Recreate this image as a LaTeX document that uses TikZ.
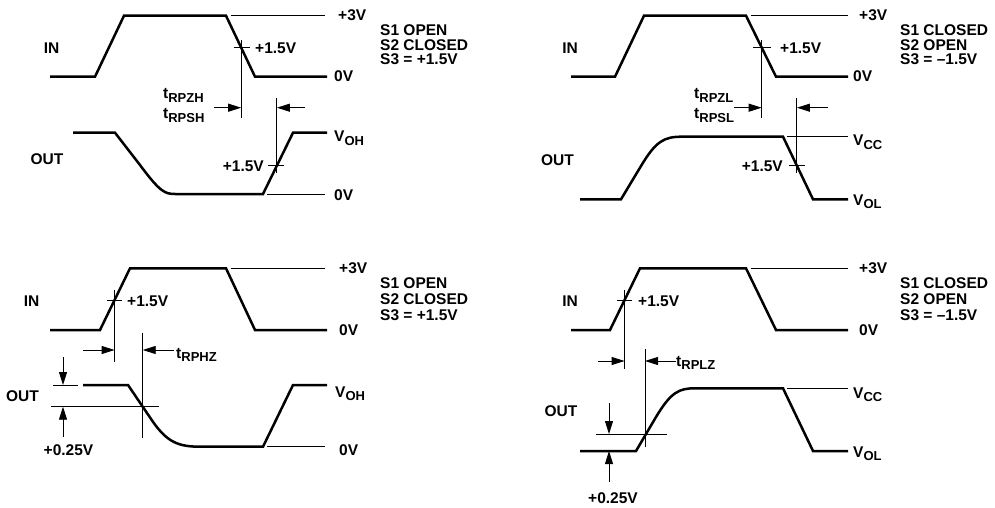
\documentclass[tikz,border=0pt]{standalone}
\usepackage{fontspec}
\setmainfont{Liberation Sans}
\usetikzlibrary{arrows.meta}
\newcommand\sbs[1]{\raisebox{-3.8pt}{\fontsize{13}{13}\selectfont #1}}
\begin{document}
\begin{tikzpicture}[x=1pt,y=-1pt,
  wave/.style={line width=2.5pt},
  thinl/.style={line width=0.9pt},
  arr/.style={thinl,-{Triangle[length=13pt,width=8pt]}},
  lbl/.style={font=\bfseries\fontsize{15.5}{15.5}\selectfont, inner sep=0pt, anchor=base west},
  lblc/.style={lbl, anchor=base},
  lble/.style={lbl, anchor=base east}]
\useasboundingbox (0,0) rectangle (995,508);

% ================= Top-left =================
\draw[wave] (50,76.7) -- (95,76.7) -- (124,15.7) -- (226,15.7) -- (255,76.7) -- (327,76.7);
\draw[thinl] (231,15.7) -- (325,15.7);
\draw[thinl] (234,47.7) -- (250,47.7);
\coordinate (a1t) at (241.2,40);
\coordinate (a1b) at (241.2,118);
\draw[thinl] (a1t) -- (a1b);
\coordinate (a1s) at (214,107.7);
\coordinate (a1e) at (241.2,107.7);
\draw[arr] (a1s) -- (a1e);
\coordinate (a2t) at (276.9,98);
\coordinate (a2b) at (276.9,173);
\draw[thinl] (a2t) -- (a2b);
\coordinate (a2s) at (305,107.7);
\coordinate (a2e) at (276.9,107.7);
\draw[arr] (a2s) -- (a2e);
\draw[wave] (73,132.7) -- (115,132.7) -- (140,165) .. controls (160,192) and (165,194) .. (175,194) -- (263,194) -- (293,132.7) -- (327,132.7);
\draw[thinl] (267,194) -- (325,194);
\draw[thinl] (268,165.7) -- (284,165.7);
\node[lblc] (tlin) at (51.5,54) {IN};
\node[lblc] (tlout) at (47,164) {OUT};
\node[lbl] (tlp15a) at (255,53.5) {+1.5V};
\node[lble] (tlp15b) at (264,171.5) {+1.5V};
\node[lbl] (tlt1) at (163,98.3) {t\sbs{RPZH}};
\node[lbl] (tlt2) at (163,118.3) {t\sbs{RPSH}};
\node[lbl] (tl3v) at (338,21) {+3V};
\node[lbl] (tl0a) at (334,82) {0V};
\node[lbl] (tlvoh) at (334,142) {V\sbs{OH}};
\node[lbl] (tl0b) at (334,200) {0V};
\node[lbl] (tls1) at (380,36) {S1 OPEN};
\node[lbl] (tls2) at (380,50.5) {S2 CLOSED};
\node[lbl] (tls3) at (380,65) {S3 = +1.5V};

% ================= Top-right =================
\draw[wave] (571,76.7) -- (615,76.7) -- (644,15.7) -- (746,15.7) -- (776,76.7) -- (848,76.7);
\draw[thinl] (751,15.7) -- (848,15.7);
\draw[thinl] (753,47.7) -- (771,47.7);
\coordinate (b1t) at (761.7,40);
\coordinate (b1b) at (761.7,118);
\draw[thinl] (b1t) -- (b1b);
\coordinate (b1s) at (734,107.7);
\coordinate (b1e) at (761.7,107.7);
\draw[arr] (b1s) -- (b1e);
\coordinate (b2t) at (796.9,98);
\coordinate (b2b) at (796.9,173);
\draw[thinl] (b2t) -- (b2b);
\coordinate (b2s) at (828,107.7);
\coordinate (b2e) at (796.9,107.7);
\draw[arr] (b2s) -- (b2e);
\draw[wave] (580,199.3) -- (621,199.3) -- (641,166) .. controls (656,141) and (664,136.7) .. (682,136.7) -- (783,136.7) -- (813,199.3) -- (848,199.3);
\draw[thinl] (787,136.7) -- (848,136.7);
\draw[thinl] (789,165.7) -- (805,165.7);
\node[lblc] (trin) at (570,53.3) {IN};
\node[lblc] (trout) at (557.5,165) {OUT};
\node[lbl] (trp15a) at (780,53.3) {+1.5V};
\node[lble] (trp15b) at (783,171.7) {+1.5V};
\node[lbl] (trt1) at (694,98.3) {t\sbs{RPZL}};
\node[lbl] (trt2) at (694,118.3) {t\sbs{RPSL}};
\node[lbl] (tr3v) at (859,21) {+3V};
\node[lbl] (tr0a) at (853,82) {0V};
\node[lbl] (trvcc) at (853,146) {V\sbs{CC}};
\node[lbl] (trvol) at (853,205) {V\sbs{OL}};
\node[lbl] (trs1) at (900,36) {S1 CLOSED};
\node[lbl] (trs2) at (900,50.5) {S2 OPEN};
\node[lbl] (trs3) at (900,65) {S3 = \char"2013 1.5V};

% ================= Bottom-left =================
\draw[wave] (50,330) -- (100,330) -- (130,268.3) -- (226,268.3) -- (255,330) -- (327,330);
\draw[thinl] (231,268.3) -- (325,268.3);
\draw[thinl] (107,300) -- (122,300);
\coordinate (c1t) at (114.6,290);
\coordinate (c1b) at (114.6,361.7);
\draw[thinl] (c1t) -- (c1b);
\coordinate (c1s) at (83,350);
\coordinate (c1e) at (114.6,350);
\draw[arr] (c1s) -- (c1e);
\coordinate (c2t) at (142.7,333);
\coordinate (c2b) at (142.7,438);
\draw[thinl] (c2t) -- (c2b);
\coordinate (c2s) at (174,350);
\coordinate (c2e) at (142.7,350);
\draw[arr] (c2s) -- (c2e);
\draw[wave] (83,385) -- (128,385) -- (152.4,421) .. controls (167,442) and (178,446.7) .. (200,446.7) -- (263,446.7) -- (293,385) -- (327,385);
\draw[thinl] (53,385) -- (78,385);
\draw[thinl] (51,406.7) -- (159,406.7);
\coordinate (c3s) at (63,357);
\coordinate (c3e) at (63,385);
\draw[arr] (c3s) -- (c3e);
\coordinate (c4s) at (63,437);
\coordinate (c4e) at (63,406.7);
\draw[arr] (c4s) -- (c4e);
\draw[thinl] (267,446.7) -- (325,446.7);
\node[lblc] (blin) at (31.5,306) {IN};
\node[lblc] (blout) at (22.5,401.7) {OUT};
\node[lbl] (blp15) at (127,306) {+1.5V};
\node[lbl] (blt) at (176,358) {t\sbs{RPHZ}};
\node[lblc] (blp025) at (68.5,455) {+0.25V};
\node[lbl] (bl3v) at (339,273) {+3V};
\node[lbl] (bl0a) at (339,335) {0V};
\node[lbl] (blvoh) at (335,397) {V\sbs{OH}};
\node[lbl] (bl0b) at (339,455) {0V};
\node[lbl] (bls1) at (380,288) {S1 OPEN};
\node[lbl] (bls2) at (380,304) {S2 CLOSED};
\node[lbl] (bls3) at (380,320) {S3 = +1.5V};

% ================= Bottom-right =================
\draw[wave] (571,330) -- (610,330) -- (640,268.3) -- (746,268.3) -- (776,330) -- (848,330);
\draw[thinl] (751,268.3) -- (848,268.3);
\draw[thinl] (617,300) -- (632,300);
\coordinate (d1t) at (624.6,290);
\coordinate (d1b) at (624.6,369);
\draw[thinl] (d1t) -- (d1b);
\coordinate (d1s) at (598,361);
\coordinate (d1e) at (624.6,361);
\draw[arr] (d1s) -- (d1e);
\coordinate (d2t) at (645,349);
\coordinate (d2b) at (645,446.7);
\draw[thinl] (d2t) -- (d2b);
\coordinate (d2s) at (676,361);
\coordinate (d2e) at (645,361);
\draw[arr] (d2s) -- (d2e);
\draw[wave] (580,451) -- (636,451) -- (656,417) .. controls (671,392) and (679,388.3) .. (695,388.3) -- (783,388.3) -- (813,451) -- (848,451);
\draw[thinl] (787,388.3) -- (848,388.3);
\draw[thinl] (596,434) -- (667,434);
\coordinate (d3s) at (609,403);
\coordinate (d3e) at (609,434);
\draw[arr] (d3s) -- (d3e);
\coordinate (d4s) at (609,481.7);
\coordinate (d4e) at (609,451);
\draw[arr] (d4s) -- (d4e);
\node[lblc] (brin) at (570,306) {IN};
\node[lblc] (brout) at (561,416.7) {OUT};
\node[lbl] (brp15) at (638,306) {+1.5V};
\node[lbl] (brt) at (676,366) {t\sbs{RPLZ}};
\node[lblc] (brp025) at (613,503) {+0.25V};
\node[lbl] (br3v) at (859,273) {+3V};
\node[lbl] (br0a) at (859,335) {0V};
\node[lbl] (brvcc) at (853,398) {V\sbs{CC}};
\node[lbl] (brvol) at (853,457) {V\sbs{OL}};
\node[lbl] (brs1) at (900,288) {S1 CLOSED};
\node[lbl] (brs2) at (900,304) {S2 OPEN};
\node[lbl] (brs3) at (900,320) {S3 = \char"2013 1.5V};
\end{tikzpicture}
\end{document}
